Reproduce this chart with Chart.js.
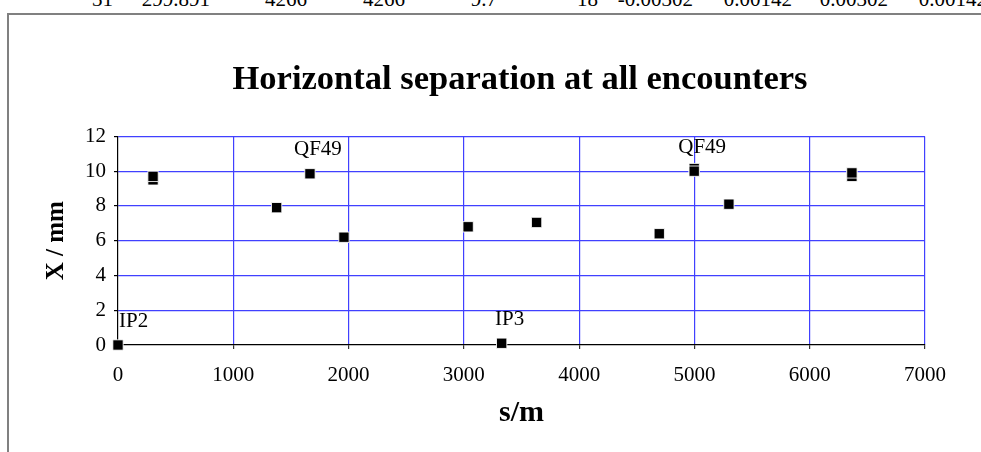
<!DOCTYPE html>
<html>
<head>
<meta charset="utf-8">
<script src="https://cdn.jsdelivr.net/npm/chart.js@4"></script>
<style>
  html, body { margin: 0; padding: 0; background: #fff; overflow: hidden; width: 981px; height: 452px; }
  .cell { position: absolute; top: -11px; width: 120px; text-align: right; font: 21px/21px 'Liberation Serif', serif; color: #000; white-space: nowrap; }
  #frame { position: absolute; left: 7px; top: 13px; width: 1022px; height: 440px; border-left: 2px solid #808080; border-top: 2px solid #808080; }
  #chart { display: block; }
</style>
</head>
<body>
<div id="row"></div>
<div id="frame"><canvas id="chart" width="1022" height="440"></canvas></div>
<script>
// spreadsheet row peeking in above the chart
const rowCells = ['31', '299.891', '4266', '4266', '9.7', '18', '-0.00302', '0.00142', '0.00302', '0.00142'];
const rowRight = [113, 210, 307, 405, 497, 598, 693, 792, 888, 987];

// chart data
const sPositions = [0, 304, 304, 1376, 1665, 1960, 3037, 3328, 3631, 4695, 4998, 4998, 5299, 6366, 6366];
const xSeparation = [0, 9.5, 9.7, 7.9, 9.85, 6.2, 6.8, 0.1, 7.05, 6.4, 10.15, 10.0, 8.1, 9.7, 9.9];
const pointNames = ['IP2', '', '', '', 'QF49', '', '', 'IP3', '', '', '', 'QF49', '', '', ''];
const xTicks = [0, 1000, 2000, 3000, 4000, 5000, 6000, 7000];
const yTicks = [0, 2, 4, 6, 8, 10, 12];

const row = document.getElementById('row');
rowCells.forEach((t, i) => {
  const d = document.createElement('div');
  d.className = 'cell';
  d.style.left = (rowRight[i] - 120) + 'px';
  d.textContent = t;
  row.appendChild(d);
});

const SERIF = "'Liberation Serif', 'Times New Roman', serif";
const GRID_BLUE = 'rgb(64, 64, 255)';
// no blue gridline under the black axis lines
const gridColor = c => (c.tick && c.tick.value === 0) ? 'rgba(0,0,0,0)' : GRID_BLUE;

const pointLabels = {
  id: 'pointLabels',
  afterDatasetsDraw(chart) {
    const { ctx, chartArea } = chart;
    const meta = chart.getDatasetMeta(0);
    ctx.save();
    ctx.font = '21px ' + SERIF;
    ctx.fillStyle = '#000';
    ctx.textAlign = 'center';
    ctx.textBaseline = 'middle';
    meta.data.forEach((pt, i) => {
      const name = pointNames[i];
      if (!name) return;
      const w = ctx.measureText(name).width;
      let cx = pt.x + 8;
      if (cx - w / 2 < chartArea.left) cx = chartArea.left + w / 2 + 1;
      ctx.fillText(name, cx, pt.y - 24);
    });
    ctx.restore();
  }
};

new Chart(document.getElementById('chart'), {
  type: 'scatter',
  data: {
    datasets: [{
      data: sPositions.map((s, i) => ({ x: s, y: xSeparation[i] })),
      pointStyle: 'rect',
      pointRadius: 7.3,
      backgroundColor: '#000',
      borderColor: 'rgba(255,255,255,0.85)',
      borderWidth: 1,
      clip: false
    }]
  },
  plugins: [pointLabels],
  options: {
    responsive: false,
    animation: false,
    layout: { padding: 0 },
    plugins: {
      legend: { display: false },
      tooltip: { enabled: false },
      title: {
        display: true,
        text: 'Horizontal separation at all encounters',
        color: '#000',
        font: { family: SERIF, size: 34.5, weight: 'bold' },
        padding: { top: 44, bottom: 36 }
      }
    },
    scales: {
      x: {
        type: 'linear',
        min: 0,
        max: 7000,
        afterBuildTicks(scale) { scale.ticks = xTicks.map(v => ({ value: v })); },
        afterFit(scale) { scale.height = 110; },
        grid: { color: gridColor, lineWidth: 1.2, tickLength: 4, tickColor: '#333' },
        border: { display: true, color: '#000', width: 1.2 },
        ticks: { color: '#000', padding: 14, maxRotation: 0, font: { family: SERIF, size: 21 }, callback: v => String(v) },
        title: {
          display: true,
          text: 's/m',
          color: '#000',
          font: { family: SERIF, size: 30, weight: 'bold' },
          padding: { top: 0, bottom: 24 }
        }
      },
      y: {
        type: 'linear',
        min: 0,
        max: 12,
        afterBuildTicks(scale) { scale.ticks = yTicks.map(v => ({ value: v })); },
        afterFit(scale) { scale.width = 109; },
        grid: { color: gridColor, lineWidth: 1.2, tickLength: 4, tickColor: '#000' },
        border: { display: true, color: '#000', width: 1.2 },
        ticks: { color: '#000', padding: 8, font: { family: SERIF, size: 21 } },
        title: {
          display: true,
          text: 'X / mm',
          color: '#000',
          font: { family: SERIF, size: 25, weight: 'bold' },
          padding: { top: 33, bottom: 0 }
        }
      },
      // empty spacer on the right so the chart area ends at 7000 while the title stays centred on the frame
      spacer: {
        type: 'linear',
        position: 'right',
        display: true,
        afterFit(scale) { scale.width = 106; },
        grid: { display: false, drawTicks: false },
        border: { display: false },
        ticks: { display: false }
      }
    }
  }
});
</script>
</body>
</html>
